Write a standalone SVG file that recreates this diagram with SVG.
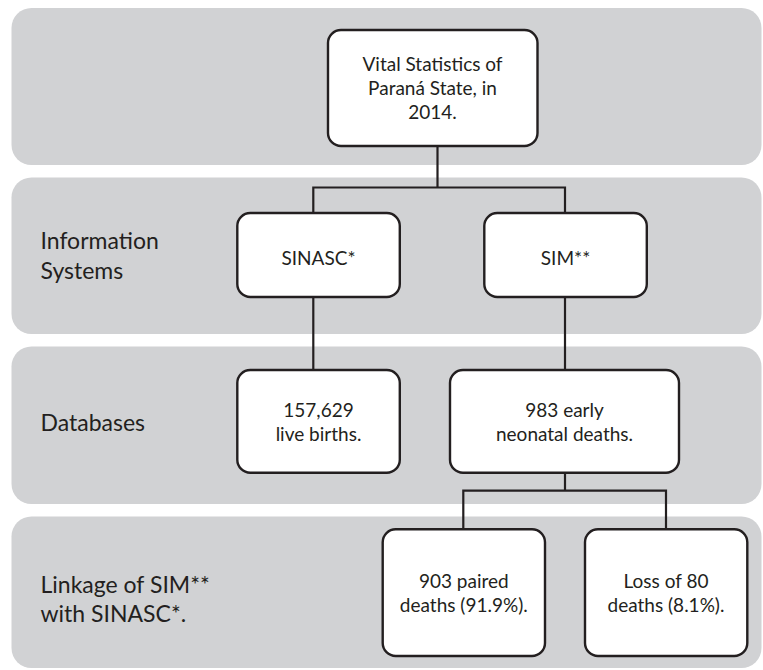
<svg xmlns="http://www.w3.org/2000/svg" width="763" height="670" viewBox="0 0 763 670">
<style>
.band{fill:#d1d2d4;}
.node{fill:#ffffff;stroke:#231f20;stroke-width:2.4;}
.conn{fill:none;stroke:#231f20;stroke-width:2.2;}
text{font-family:Lato,"Liberation Sans",sans-serif;fill:#231f20;}
.bt{font-size:19px;text-anchor:middle;}
.lt{font-size:23px;}
</style>
<rect width="763" height="670" fill="#ffffff"/>
<g id="bands">
<rect class="band" x="11.5" y="8" width="750" height="157" rx="20"/>
<rect class="band" x="11.5" y="177.5" width="750" height="156.5" rx="20"/>
<rect class="band" x="11.5" y="346.5" width="750" height="157.5" rx="20"/>
<rect class="band" x="11.5" y="516.5" width="750" height="151.5" rx="20"/>
</g>
<g id="row-labels">
<text class="lt" x="40.5" y="249">Information</text>
<text class="lt" x="40.5" y="279">Systems</text>
<text class="lt" x="40.5" y="431">Databases</text>
<text class="lt" x="40.5" y="593">Linkage of SIM**</text>
<text class="lt" x="40.5" y="622">with SINASC*.</text>
</g>
<g id="connectors">
<path class="conn" d="M437.5,146 V187.5 M313.3,213 V187.5 H565 V213"/>
<path class="conn" d="M313.3,297 V370"/>
<path class="conn" d="M565,297 V370"/>
<path class="conn" d="M565,472.7 V490.7 M463.3,529.3 V490.7 H666 V529.3"/>
</g>
<g id="vital-statistics">
<rect class="node" x="328" y="30" width="209.5" height="116" rx="13"/>
<text class="bt" x="432.5" y="71">Vital Statistics of</text>
<text class="bt" x="432.5" y="95">Paraná State, in</text>
<text class="bt" x="432.5" y="119">2014.</text>
</g>
<g id="sinasc">
<rect class="node" x="237.3" y="213" width="162.5" height="84" rx="13"/>
<text class="bt" x="318.5" y="265">SINASC*</text>
</g>
<g id="sim">
<rect class="node" x="484.3" y="213" width="162.5" height="84" rx="13"/>
<text class="bt" x="565.5" y="265">SIM**</text>
</g>
<g id="live-births">
<rect class="node" x="237.3" y="370" width="162.5" height="102.7" rx="13"/>
<text class="bt" x="318.5" y="417">157,629</text>
<text class="bt" x="318.5" y="441">live births.</text>
</g>
<g id="neonatal-deaths">
<rect class="node" x="450" y="370" width="229" height="102.7" rx="13"/>
<text class="bt" x="564.5" y="417">983 early</text>
<text class="bt" x="564.5" y="441">neonatal deaths.</text>
</g>
<g id="paired-deaths">
<rect class="node" x="382.7" y="529.3" width="162.3" height="126.7" rx="13"/>
<text class="bt" x="463.8" y="588">903 paired</text>
<text class="bt" x="463.8" y="612">deaths (91.9%).</text>
</g>
<g id="loss-deaths">
<rect class="node" x="585" y="529.3" width="162.3" height="126.7" rx="13"/>
<text class="bt" x="666" y="588">Loss of 80</text>
<text class="bt" x="666" y="612">deaths (8.1%).</text>
</g>
</svg>
